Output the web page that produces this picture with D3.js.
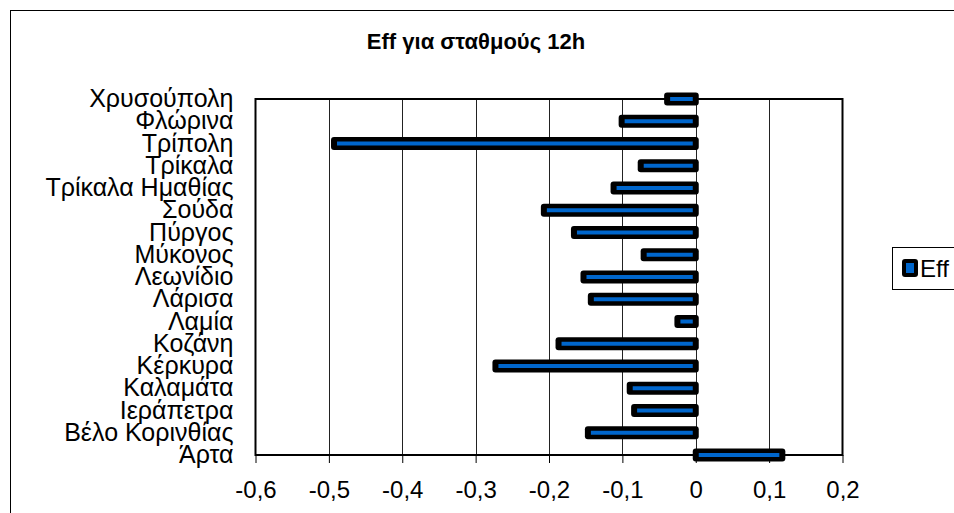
<!DOCTYPE html>
<html>
<head>
<meta charset="utf-8">
<script src="https://cdn.jsdelivr.net/npm/d3@7"></script>
<style>
  body { margin: 0; background: #fff; }
  svg { display: block; font-family: "Liberation Sans", Arial, sans-serif; }
</style>
</head>
<body>
<svg id="chart" width="954" height="513"></svg>
<script>
// Stations, top to bottom
const stations = [
  "Χρυσούπολη", "Φλώρινα", "Τρίπολη", "Τρίκαλα", "Τρίκαλα Ημαθίας", "Σούδα",
  "Πύργος", "Μύκονος", "Λεωνίδιο", "Λάρισα", "Λαμία", "Κοζάνη", "Κέρκυρα",
  "Καλαμάτα", "Ιεράπετρα", "Βέλο Κορινθίας", "Άρτα"
];
// Eff per station (12h)
const effValues = [
  -0.039, -0.101, -0.493, -0.075, -0.112, -0.207,
  -0.166, -0.071, -0.153, -0.143, -0.025, -0.187, -0.273,
  -0.090, -0.084, -0.147, 0.118
];
const xTicks = [-0.6, -0.5, -0.4, -0.3, -0.2, -0.1, 0, 0.1, 0.2];
const chartTitle = "Eff για σταθμούς 12h";
const seriesName = "Eff";

const svg = d3.select("#chart");
const plot = { left: 255.5, right: 842.5, top: 99, bottom: 455 };
const labelFont = 25;

const x = d3.scaleLinear().domain([-0.6, 0.2]).range([plot.left, plot.right]);
const y = d3.scalePoint().domain(stations).range([plot.top, plot.bottom]);
// comma decimals with a plain hyphen for negatives
const fmt = v => String(+v.toFixed(1)).replace(".", ",");

// outer chart frame
svg.append("rect")
  .attr("x", 10.5).attr("y", 10.5).attr("width", 1000).attr("height", 600)
  .attr("fill", "none").attr("stroke", "#000").attr("stroke-width", 1);

// title
svg.append("text")
  .attr("x", 476).attr("y", 49)
  .attr("text-anchor", "middle")
  .attr("font-size", 22).attr("font-weight", "bold")
  .text(chartTitle);

// vertical gridlines
svg.append("g").selectAll("line")
  .data(xTicks.slice(1, -1))
  .join("line")
  .attr("x1", d => Math.round(x(d)) + 0.5).attr("x2", d => Math.round(x(d)) + 0.5)
  .attr("y1", plot.top).attr("y2", plot.bottom)
  .attr("stroke", "#222").attr("stroke-width", 1);

// x axis with outward ticks
const xAxis = d3.axisBottom(x)
  .tickValues(xTicks)
  .tickSize(8)
  .tickPadding(18)
  .tickFormat(fmt);
const gx = svg.append("g")
  .attr("transform", `translate(0,${plot.bottom})`)
  .call(xAxis);
gx.select(".domain").remove();
gx.selectAll(".tick line").attr("stroke", "#000").attr("stroke-width", 1);
gx.selectAll(".tick text")
  .attr("font-size", 24).attr("fill", "#000")
  .attr("font-family", "Liberation Sans, Arial, sans-serif");

// category labels
const gy = svg.append("g")
  .attr("transform", `translate(${plot.left},0)`)
  .call(d3.axisLeft(y).tickSize(0).tickPadding(22));
gy.select(".domain").remove();
gy.selectAll(".tick text")
  .attr("font-size", labelFont).attr("fill", "#000")
  .attr("dy", "0.3em")
  .attr("font-family", "Liberation Sans, Arial, sans-serif");

// plot area border
svg.append("rect")
  .attr("x", plot.left).attr("y", plot.top)
  .attr("width", plot.right - plot.left).attr("height", plot.bottom - plot.top)
  .attr("fill", "none").attr("stroke", "#000").attr("stroke-width", 2);

// bars: heavy black outline around a thin blue core
const bars = svg.append("g").selectAll("g")
  .data(stations.map((s, i) => ({ s, v: effValues[i] })))
  .join("g");
bars.append("rect")
  .attr("x", d => Math.min(x(d.v), x(0)) - 3)
  .attr("width", d => Math.abs(x(d.v) - x(0)) + 6)
  .attr("y", d => y(d.s) - 6.5).attr("height", 13)
  .attr("rx", 3).attr("fill", "#000");
bars.append("rect")
  .attr("x", d => Math.min(x(d.v), x(0)) + 3)
  .attr("width", d => Math.max(0, Math.abs(x(d.v) - x(0)) - 6))
  .attr("y", d => y(d.s) - 2).attr("height", 4)
  .attr("fill", "#0066cc");

// legend
const lg = svg.append("g");
lg.append("rect")
  .attr("x", 892.5).attr("y", 247.5).attr("width", 80).attr("height", 42)
  .attr("fill", "#fff").attr("stroke", "#000").attr("stroke-width", 1);
lg.append("rect")
  .attr("x", 902).attr("y", 259).attr("width", 16).attr("height", 18)
  .attr("rx", 3).attr("fill", "#000");
lg.append("rect")
  .attr("x", 906).attr("y", 263).attr("width", 8).attr("height", 10)
  .attr("fill", "#0066cc");
lg.append("text")
  .attr("x", 920).attr("y", 277)
  .attr("font-size", 24)
  .text(seriesName);
</script>
</body>
</html>
